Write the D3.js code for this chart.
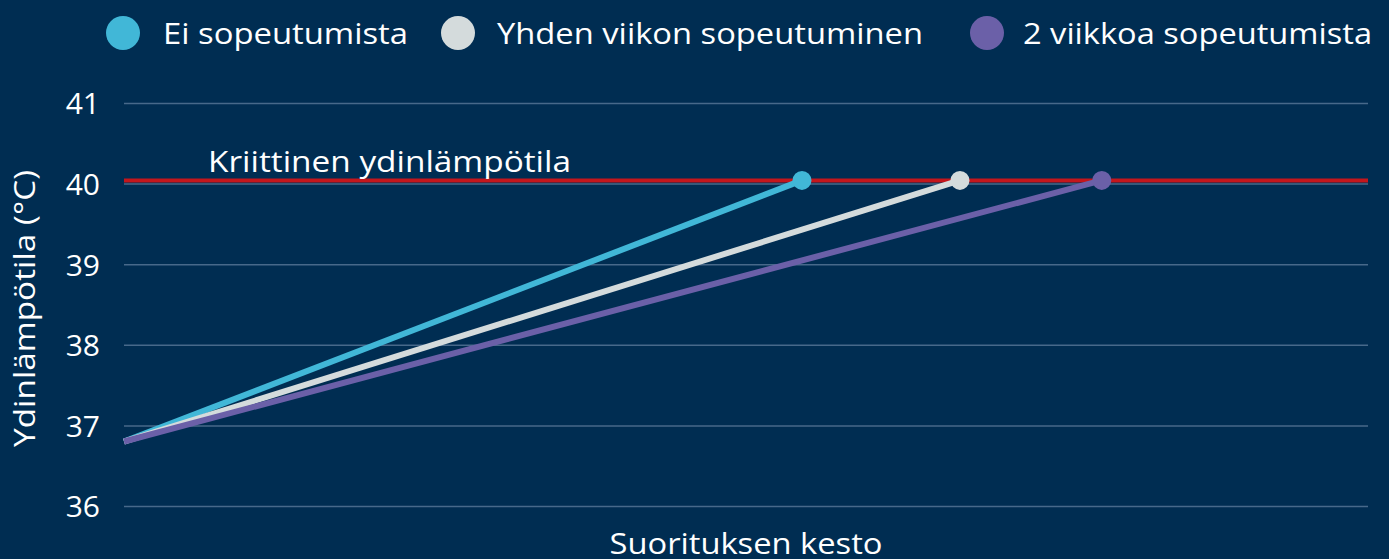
<!DOCTYPE html>
<html><head><meta charset="utf-8">
<script src="https://cdn.jsdelivr.net/npm/d3@7"></script>
<style>html,body{margin:0;padding:0;background:#002d52;}svg{display:block;}</style>
</head><body>
<svg id="c" width="1389" height="559"></svg>
<script>
const seriesNames = ["Ei sopeutumista", "Yhden viikon sopeutuminen", "2 viikkoa sopeutumista"];
const seriesColors = ["#41b7d7", "#d4dbdc", "#6b60a8"];
const startX = [0, 0, 0];
const startY = [36.8, 36.8, 36.8];
const endX = [54.5, 67.2, 78.6];
const endY = [40.04, 40.04, 40.04];
const yTicks = [36, 37, 38, 39, 40, 41];
const criticalValue = 40.04;
const criticalLabel = "Kriittinen ydinlämpötila";
const yTitle = "Ydinlämpötila (°C)";
const xTitle = "Suorituksen kesto";
const legendTextWidths = [245, 426, 349];
const legendCx = [123, 458, 987];
const legendTextX = [163, 497, 1023];

const svg = d3.select("#c");
const W = 1389, H = 559;
svg.append("rect").attr("width", W).attr("height", H).attr("fill", "#002d52");

const m = {left: 124, right: 1368, top: 103, bottom: 506};
const x = d3.scaleLinear().domain([0, 100]).range([m.left, m.right]);
const y = d3.scaleLinear().domain([36, 41]).range([m.bottom, m.top]);

// gridlines
const yAxis = d3.axisLeft(y).tickValues(yTicks).tickSize(-(m.right - m.left)).tickPadding(24).tickFormat(d3.format("d"));
const ga = svg.append("g").attr("transform", `translate(${m.left},0)`).call(yAxis);
ga.select(".domain").remove();
ga.selectAll(".tick line").attr("stroke", "#47698a").attr("stroke-width", 1.5);
ga.selectAll(".tick text").attr("fill", "#ffffff").attr("font-family", "Open Sans").attr("font-size", 30).attr("dy", "0.36em");

// critical line
svg.append("line").attr("x1", m.left).attr("x2", m.right)
  .attr("y1", y(criticalValue)).attr("y2", y(criticalValue))
  .attr("stroke", "#c4161c").attr("stroke-width", 4);
svg.append("text").attr("x", 208).attr("y", y(criticalValue) - 8)
  .attr("fill", "#ffffff").attr("font-family", "Open Sans").attr("font-size", 29)
  .attr("textLength", 363).attr("lengthAdjust", "spacingAndGlyphs")
  .text(criticalLabel);

// series lines
seriesNames.forEach((s, i) => {
  svg.append("line")
    .attr("x1", x(startX[i])).attr("y1", y(startY[i]))
    .attr("x2", x(endX[i])).attr("y2", y(endY[i]))
    .attr("stroke", seriesColors[i]).attr("stroke-width", 6);
});
seriesNames.forEach((s, i) => {
  svg.append("circle").attr("cx", x(endX[i])).attr("cy", y(endY[i])).attr("r", 9.5).attr("fill", seriesColors[i]);
});

// legend
seriesNames.forEach((s, i) => {
  svg.append("ellipse").attr("cx", legendCx[i]).attr("cy", 33).attr("rx", 17).attr("ry", 17).attr("fill", seriesColors[i]);
  svg.append("text").attr("x", legendTextX[i]).attr("y", 44)
    .attr("fill", "#ffffff").attr("font-family", "Open Sans").attr("font-size", 30)
    .attr("textLength", legendTextWidths[i]).attr("lengthAdjust", "spacingAndGlyphs")
    .text(s);
});

// axis titles
svg.append("text").attr("transform", `translate(35,${(170 + 447) / 2}) rotate(-90)`)
  .attr("text-anchor", "middle").attr("fill", "#ffffff").attr("font-family", "Open Sans").attr("font-size", 29)
  .attr("textLength", 277).attr("lengthAdjust", "spacingAndGlyphs")
  .text(yTitle);
svg.append("text").attr("x", 746).attr("y", 554).attr("text-anchor", "middle")
  .attr("fill", "#ffffff").attr("font-family", "Open Sans").attr("font-size", 30)
  .attr("textLength", 273).attr("lengthAdjust", "spacingAndGlyphs")
  .text(xTitle);
</script>
</body></html>
